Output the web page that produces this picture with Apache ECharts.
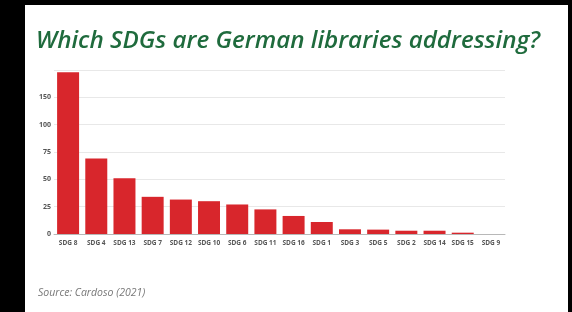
<!DOCTYPE html>
<html>
<head>
<meta charset="utf-8">
<script src="https://cdn.jsdelivr.net/npm/echarts@6/dist/echarts.min.js"></script>
<style>
  html, body { margin: 0; padding: 0; background: #000; }
  #panel { position: absolute; left: 25px; top: 5px; width: 543px; height: 307px; background: #fff; }
  #chart { position: absolute; left: 0; top: 0; width: 572px; height: 312px; }
</style>
</head>
<body>
<div id="panel"></div>
<div id="chart"></div>
<script>
const categories = ['SDG 8', 'SDG 4', 'SDG 13', 'SDG 7', 'SDG 12', 'SDG 10', 'SDG 6', 'SDG 11',
  'SDG 16', 'SDG 1', 'SDG 3', 'SDG 5', 'SDG 2', 'SDG 14', 'SDG 15', 'SDG 9']
const counts = [148, 69, 51, 34, 31.5, 30, 27, 22.5, 16.5, 11, 4.3, 4, 3, 3, 1.2, 0]
// tick labels as printed on the source chart (one per gridline, bottom to top)
const yTickLabels = ['0', '25', '50', '75', '100', '150', '']

const chart = echarts.init(document.getElementById('chart'))
const options = {
  animation: false,
  backgroundColor: 'transparent',
  title: [
    {
      text: 'Which SDGs are German libraries addressing?',
      left: 31,
      top: 24,
      textStyle: {
        fontFamily: 'Open Sans',
        fontStyle: 'italic',
        fontWeight: 600,
        fontSize: 24.2,
        color: '#1f6b3d'
      }
    },
    {
      text: 'Source: Cardoso (2021)',
      left: 33,
      top: 283,
      textStyle: {
        fontFamily: 'Open Sans',
        fontStyle: 'italic',
        fontWeight: 'normal',
        fontSize: 10.5,
        color: '#777'
      }
    }
  ],
  grid: {
    left: 54,
    right: 67,
    top: 70,
    bottom: 78
  },
  xAxis: {
    type: 'category',
    data: categories,
    axisTick: { show: false },
    axisLine: { lineStyle: { color: '#b8b8b8', width: 1 } },
    axisLabel: {
      interval: 0,
      margin: 6,
      fontFamily: 'Open Sans',
      fontWeight: 'bold',
      fontSize: 6.5,
      color: '#555'
    }
  },
  yAxis: {
    type: 'value',
    min: 0,
    max: 150,
    interval: 25,
    axisLine: { show: false },
    axisTick: { show: false },
    splitLine: { lineStyle: { color: '#e8e8e8', width: 1 } },
    axisLabel: {
      margin: 3,
      fontFamily: 'Open Sans',
      fontWeight: 'bold',
      fontSize: 7,
      color: '#555',
      formatter: function (value) {
        return yTickLabels[Math.round(value / 25)]
      }
    }
  },
  series: [
    {
      name: 'SDGs',
      type: 'bar',
      data: counts,
      barCategoryGap: '22%',
      itemStyle: { color: '#d8262c' }
    }
  ]
}
chart.setOption(options)
</script>
</body>
</html>
